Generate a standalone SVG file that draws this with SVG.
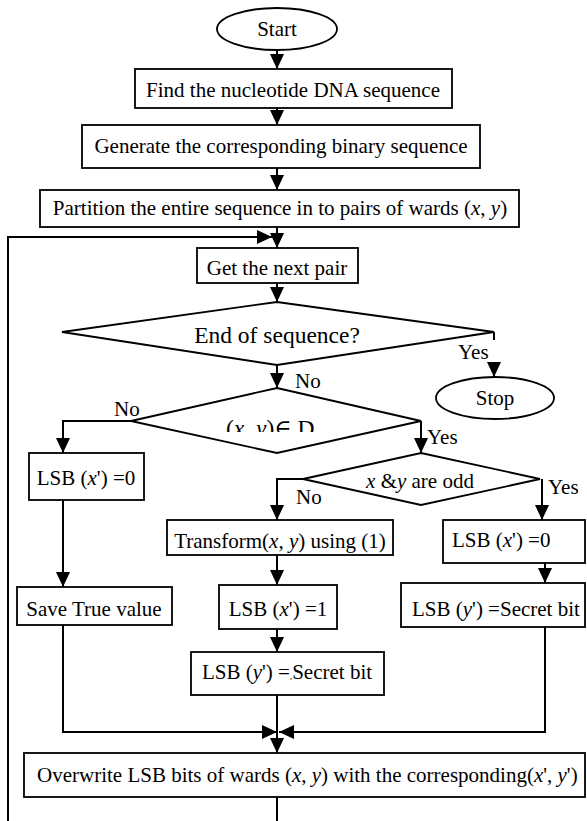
<svg xmlns="http://www.w3.org/2000/svg" width="587" height="821" viewBox="0 0 587 821" font-family="'Liberation Serif', 'Times New Roman', 'DejaVu Serif', serif">
<style>
.box{fill:#fff;stroke:#000;stroke-width:1.8}
.ln{fill:none;stroke:#000;stroke-width:2}
text{font-family:'Liberation Serif','Times New Roman','DejaVu Serif',serif;font-size:21px;fill:#000}
.c{text-anchor:middle}
.big{font-size:23.5px}
.i{font-style:italic}
</style>
<defs>
<marker id="ah" markerUnits="userSpaceOnUse" markerWidth="15" markerHeight="14" refX="15" refY="7" orient="auto">
<path d="M0,0 L15,7 L0,14 z" fill="#000"/>
</marker>
<clipPath id="clipD"><rect x="150" y="400" width="260" height="32"/></clipPath>
</defs>

<g id="connectors">
<line class="ln" x1="277" y1="50" x2="277" y2="69" marker-end="url(#ah)"/>
<line class="ln" x1="277" y1="108" x2="277" y2="125" marker-end="url(#ah)"/>
<line class="ln" x1="277" y1="168" x2="277" y2="190" marker-end="url(#ah)"/>
<line class="ln" x1="277" y1="227" x2="277" y2="248" marker-end="url(#ah)"/>
<polyline class="ln" points="277,797 277,821"/>
<polyline class="ln" points="8,821 8,237 272,237" marker-end="url(#ah)"/>
<line class="ln" x1="277" y1="283" x2="277" y2="302" marker-end="url(#ah)"/>
<line class="ln" x1="494" y1="332" x2="494" y2="340"/>
<line class="ln" x1="494" y1="362" x2="494" y2="377" marker-end="url(#ah)"/>
<line class="ln" x1="277" y1="365" x2="277" y2="388" marker-end="url(#ah)"/>
<polyline class="ln" points="131,421 63,421 63,453" marker-end="url(#ah)"/>
<line class="ln" x1="63" y1="500" x2="63" y2="587" marker-end="url(#ah)"/>
<polyline class="ln" points="63,625 63,732 277,732" marker-end="url(#ah)"/>
<line class="ln" x1="421" y1="421" x2="421" y2="453" marker-end="url(#ah)"/>
<polyline class="ln" points="303,479 277,479 277,520" marker-end="url(#ah)"/>
<line class="ln" x1="277" y1="555" x2="277" y2="585" marker-end="url(#ah)"/>
<line class="ln" x1="277" y1="629" x2="277" y2="652" marker-end="url(#ah)"/>
<line class="ln" x1="277" y1="695" x2="277" y2="753" marker-end="url(#ah)"/>
<line class="ln" x1="542" y1="479" x2="542" y2="520" marker-end="url(#ah)"/>
<line class="ln" x1="545" y1="563" x2="545" y2="583" marker-end="url(#ah)"/>
<polyline class="ln" points="545,627 545,732 279,732" marker-end="url(#ah)"/>
</g>

<g id="start">
<ellipse class="box" cx="277" cy="29" rx="60" ry="21"/>
<text class="c" x="277" y="36">Start</text>
</g>
<g id="find">
<rect class="box" x="135" y="69" width="317" height="39"/>
<text class="c" x="293" y="97">Find the nucleotide DNA sequence</text>
</g>
<g id="generate">
<rect class="box" x="82" y="125" width="398" height="43"/>
<text class="c" x="281" y="153">Generate the corresponding binary sequence</text>
</g>
<g id="partition">
<rect class="box" x="40" y="190" width="479" height="37"/>
<text class="c" x="280" y="215">Partition the entire sequence in to pairs of wards (<tspan class="i">x</tspan>, <tspan class="i">y</tspan>)</text>
</g>
<g id="next">
<rect class="box" x="197" y="248" width="161" height="35"/>
<text class="c" x="277" y="275">Get the next pair</text>
</g>
<g id="endseq">
<polygon class="box" points="277,302 494,332 277,365 62,332"/>
<text class="c big" x="277" y="343">End of sequence?</text>
<text x="458" y="359">Yes</text>
</g>
<g id="stop">
<ellipse class="box" cx="495" cy="398" rx="59" ry="21"/>
<text class="c" x="495" y="405">Stop</text>
</g>
<g id="inDs">
<polygon class="box" points="277,388 421,421 277,453 131,421"/>
<text x="295" y="388">No</text>
<text x="114" y="416">No</text>
<text x="427" y="444">Yes</text>
<text class="big" x="226" y="436" clip-path="url(#clipD)">(<tspan class="i">x</tspan>, <tspan class="i">y</tspan>)∈ D<tspan font-size="15" dy="5">s</tspan></text>
</g>
<g id="lsbx0left">
<rect class="box" x="29" y="453" width="115" height="47"/>
<text class="c" x="86" y="485">LSB (<tspan class="i">x</tspan>') =0</text>
</g>
<g id="odd">
<polygon class="box" points="421,453 540,479 421,505 303,479"/>
<text class="c" x="420" y="488"><tspan class="i">x</tspan> &amp;<tspan class="i">y</tspan> are odd</text>
<text x="296" y="504">No</text>
<text x="548" y="494">Yes</text>
</g>
<g id="transform">
<rect class="box" x="167" y="520" width="226" height="35"/>
<text class="c" x="280" y="548">Transform(<tspan class="i">x</tspan>, <tspan class="i">y</tspan>) using (1)</text>
</g>
<g id="lsbx0right">
<rect class="box" x="443" y="520" width="142" height="43"/>
<text x="452" y="547">LSB (<tspan class="i">x</tspan>') =0</text>
</g>
<g id="save">
<rect class="box" x="17" y="587" width="155" height="38"/>
<text class="c" x="94" y="616">Save True value</text>
</g>
<g id="lsbx1">
<rect class="box" x="219" y="585" width="118" height="44"/>
<text class="c" x="278" y="616">LSB (<tspan class="i">x</tspan>') =1</text>
</g>
<g id="lsbyright">
<rect class="box" x="401" y="583" width="184" height="44"/>
<text x="412" y="616">LSB (<tspan class="i">y</tspan>') =Secret bit</text>
</g>
<g id="lsbymid">
<rect class="box" x="191" y="652" width="193" height="43"/>
<text class="c" x="287" y="679">LSB (<tspan class="i">y</tspan>') =<tspan font-size="9">,</tspan>Secret bit</text>
</g>
<g id="overwrite">
<rect class="box" x="24" y="753" width="561" height="44"/>
<text x="37" y="782">Overwrite LSB bits of wards (<tspan class="i">x</tspan>, <tspan class="i">y</tspan>) with the corresponding(<tspan class="i">x</tspan>', <tspan class="i">y</tspan>')</text>
</g>
</svg>
